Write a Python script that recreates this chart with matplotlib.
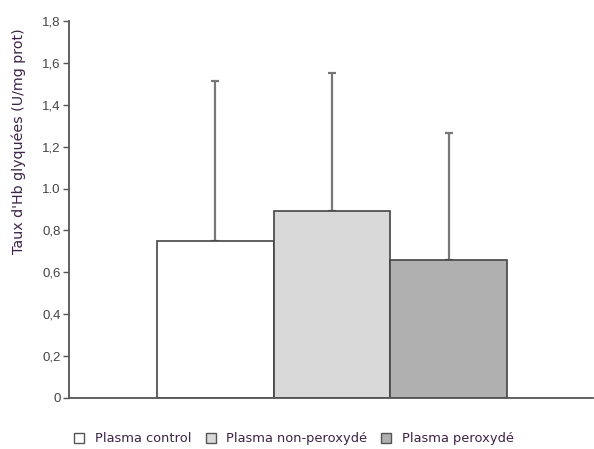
import matplotlib.pyplot as plt
from matplotlib.lines import Line2D

# données
groups = ['Plasma control', 'Plasma non-peroxydé', 'Plasma peroxydé']
means = [0.75, 0.895, 0.66]
sd_up = [0.765, 0.655, 0.605]
colors = ['#ffffff', '#d9d9d9', '#b0b0b0']
yticks = [0, 0.2, 0.4, 0.6, 0.8, 1.0, 1.2, 1.4, 1.6, 1.8]
ytick_labels = ['0', '0,2', '0,4', '0,6', '0,8', '1.0', '1,2', '1,4', '1,6', '1,8']

txt_col = '#3d2448'
axis_col = '#555555'

fig = plt.figure(figsize=(5.94, 4.49), dpi=100)
ax = fig.add_axes([0.116, 0.1136, 0.882, 0.8394])

x = range(len(groups))
ax.bar(x, means, width=1.0, color=colors, edgecolor='#444444', linewidth=1.2, zorder=2)
ax.errorbar(x, means, yerr=[[0] * len(sd_up), sd_up], fmt='none',
            ecolor='#777777', elinewidth=1.6, capsize=3, capthick=1.6, zorder=1)

ax.set_xlim(-1.25, 3.23)
ax.set_ylim(0, 1.8)
ax.set_yticks(yticks)
ax.set_yticklabels(ytick_labels, fontsize=9.5, color='#444444', family='Liberation Sans')
ax.set_xticks([])
ax.tick_params(axis='y', direction='out', length=4, width=1, color=axis_col, pad=2)

for s in ['top', 'right']:
    ax.spines[s].set_visible(False)
for s in ['left', 'bottom']:
    ax.spines[s].set_color(axis_col)
    ax.spines[s].set_linewidth(1.3)

# titre de l'axe y, placé plus haut comme dans l'original
fig.text(19 / 594, 1 - 141.5 / 449, "Taux d'Hb glyquées (U/mg prot)", rotation=90,
         ha='center', va='center', fontsize=10.3, color=txt_col, family='DejaVu Sans')

handles = [Line2D([], [], marker='s', linestyle='none', markersize=7,
                  markerfacecolor=c, markeredgecolor='#555555', markeredgewidth=1)
           for c in colors]
leg = fig.legend(handles, groups, loc='lower left', bbox_to_anchor=(0.092, -0.018),
                 ncol=3, frameon=False, handletextpad=0.2, columnspacing=0.45,
                 prop={'family': 'DejaVu Sans', 'size': 9.4})
for t in leg.get_texts():
    t.set_color(txt_col)

fig.savefig('out.png', dpi=100)
